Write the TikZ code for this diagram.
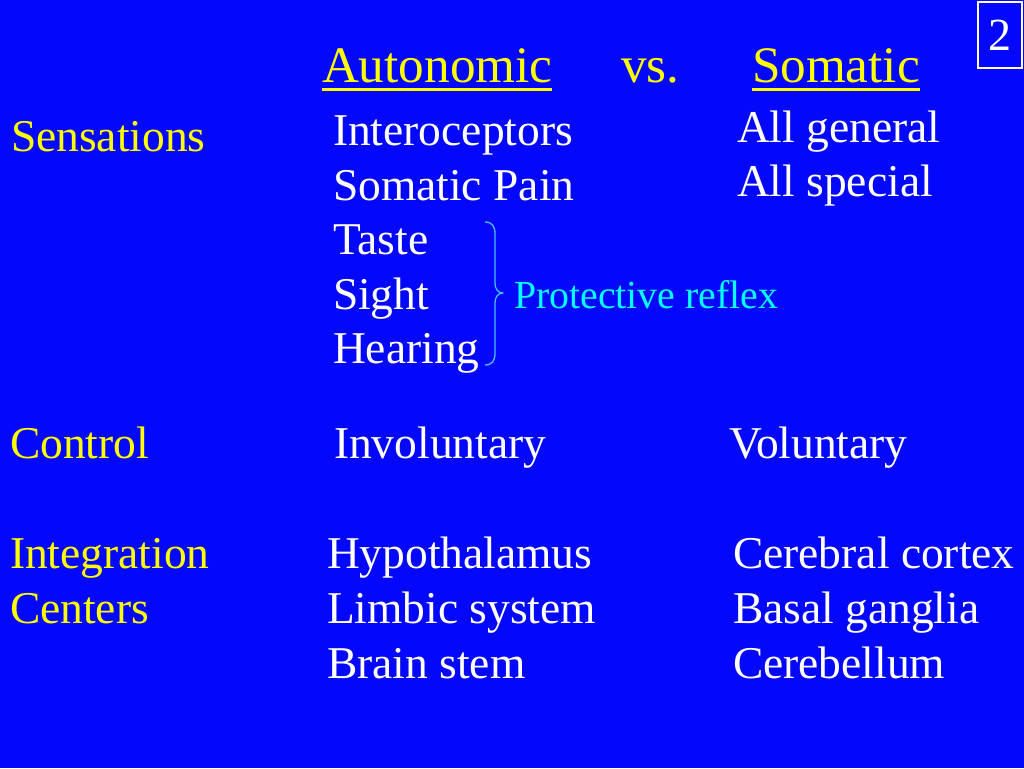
\documentclass[tikz,border=0pt]{standalone}
\usepackage{fontspec}
\setmainfont{Liberation Serif}
\definecolor{slideblue}{RGB}{4,8,250}
\definecolor{titleyellow}{RGB}{255,255,0}
\definecolor{reflexcyan}{RGB}{0,255,255}
\definecolor{bracecol}{RGB}{70,190,255}
\begin{document}
\begin{tikzpicture}[x=1pt,y=-1pt,
  every node/.style={inner sep=0pt, outer sep=0pt, anchor=base west},
  titletext/.style={text=titleyellow, font=\fontsize{51.2}{60}\selectfont},
  rowlabel/.style={text=titleyellow, font=\fontsize{45.5}{54}\selectfont},
  item/.style={text=white, font=\fontsize{45.5}{54}\selectfont},
  reflex/.style={text=reflexcyan, font=\fontsize{39.8}{48}\selectfont},
  uline/.style={draw=titleyellow, line width=2.6pt}]
\fill[slideblue] (0,0) rectangle (1024,768);
\useasboundingbox (0,0) rectangle (1024,768);

% page number box
\node[draw=white, line width=2pt, minimum width=44pt, minimum height=65pt, anchor=center] (pgbox) at (999.5,35) {};
\node[text=white, font=\fontsize{46}{54}\selectfont, anchor=base] (pgnum) at (999.5,51) {2};

% title
\node[titletext] (auto) at (322,82) {Autonomic};
\node[titletext] (vs) at (621,82) {vs.};
\node[titletext] (som) at (752,82) {Somatic};
\draw[uline] ([yshift=-7.5pt]auto.base west) -- ([yshift=-7.5pt]auto.base east);
\draw[uline] ([yshift=-7.5pt]som.base west) -- ([yshift=-7.5pt]som.base east);

% row labels
\node[rowlabel] (sens) at (11,151.5) {Sensations};
\node[rowlabel] (ctrl) at (10,458) {Control};
\node[rowlabel] (integ) at (10,568) {Integration};
\node[rowlabel] (cent) at (10,623) {Centers};

% sensations, autonomic
\node[item] (intero) at (333,145) {Interoceptors};
\node[item] (spain) at (333,200) {Somatic Pain};
\node[item] (taste) at (333,254) {Taste};
\node[item] (sight) at (333,309) {Sight};
\node[item] (hear) at (333,363) {Hearing};

% sensations, somatic
\node[item] (allgen) at (737,142.7) {All general};
\node[item] (allspec) at (737,196.7) {All special};

% brace
\coordinate (btop) at (485,222);
\coordinate (btip) at (503,293);
\coordinate (bbot) at (485,365);
\draw[bracecol, line width=1.3pt, line join=round]
  (btop) .. controls (492,222) and (495,226) .. (495,234)
  -- (495,283) .. controls (495,289) and (498,293) .. (btip)
  .. controls (498,293) and (495,297) .. (495,303)
  -- (495,353) .. controls (495,361) and (492,365) .. (bbot);
\node[reflex] (prot) at (514,308) {Protective reflex};

% control
\node[item] (invol) at (334,458) {Involuntary};
\node[item] (vol) at (729,458) {Voluntary};

% integration centers
\node[item] (hypo) at (327,568) {Hypothalamus};
\node[item] (limb) at (327,623) {Limbic system};
\node[item] (brain) at (327,678) {Brain stem};
\node[item] (cereb) at (733,568) {Cerebral cortex};
\node[item] (basal) at (733,623) {Basal ganglia};
\node[item] (cerebel) at (733,678) {Cerebellum};
\end{tikzpicture}
\end{document}
